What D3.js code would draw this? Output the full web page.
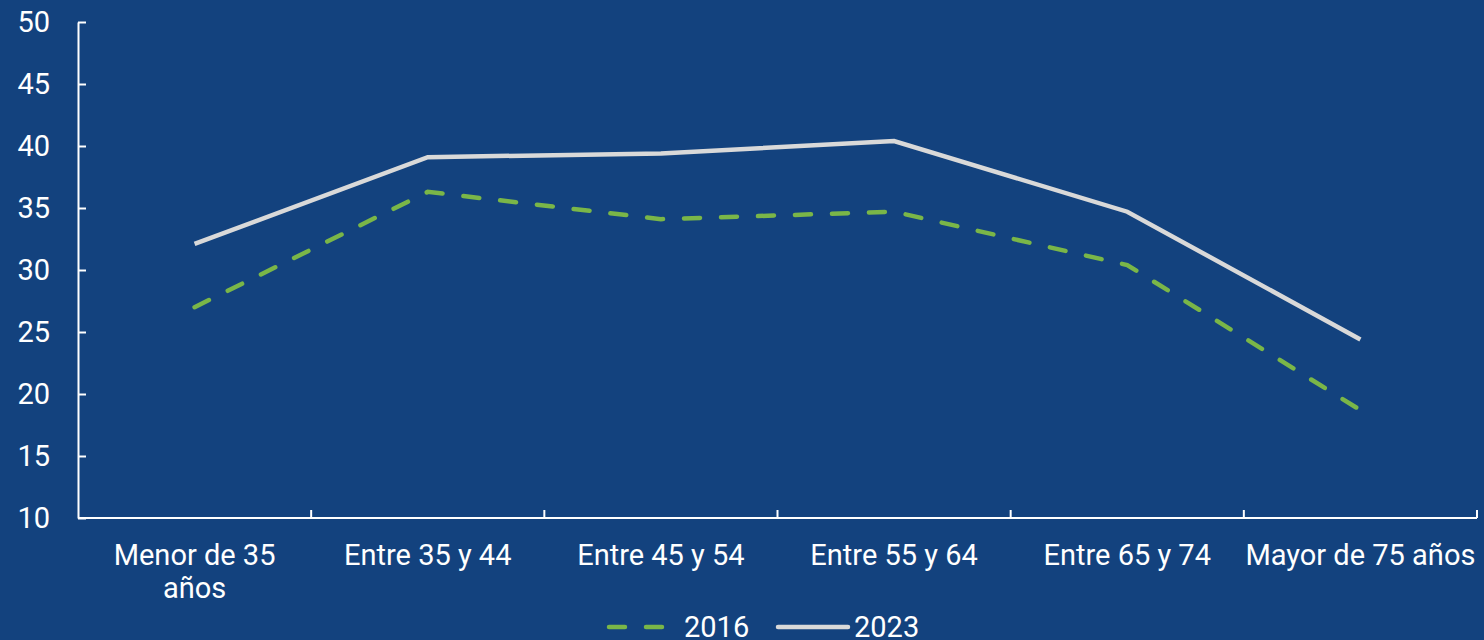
<!DOCTYPE html>
<html>
<head>
<meta charset="utf-8">
<script src="https://cdn.jsdelivr.net/npm/d3@7"></script>
<style>
  html, body { margin: 0; padding: 0; background: #13427e; }
  svg { display: block; }
  text { font-family: Roboto, "Noto Sans", sans-serif; fill: #ffffff; }
</style>
</head>
<body>
<svg id="chart"></svg>
<script>
const categories = ["Menor de 35\naños", "Entre 35 y 44", "Entre 45 y 54", "Entre 55 y 64", "Entre 65 y 74", "Mayor de 75 años"];
const values2016 = [27.0, 36.3, 34.1, 34.7, 30.4, 18.7];
const values2023 = [32.1, 39.1, 39.4, 40.4, 34.7, 24.4];
const yTicks = [10, 15, 20, 25, 30, 35, 40, 45, 50];
const seriesNames = ["2016", "2023"];

const width = 1484, height = 640;
const margin = {top: 22, right: 7, bottom: 122, left: 78};
const fontSize = 29;

let svg = d3.select("#chart").attr("width", width).attr("height", height);

let xScale = d3.scaleBand()
    .domain(categories)
    .range([margin.left, width - margin.right]);
let yScale = d3.scaleLinear()
    .domain([10, 50])
    .range([height - margin.bottom, margin.top]);

// y axis
let yAxis = svg.append("g")
    .attr("transform", `translate(${margin.left},0)`)
    .call(d3.axisRight(yScale).tickValues(yTicks).tickSize(8).tickSizeOuter(0));
yAxis.select(".domain").attr("stroke", "#ffffff").attr("stroke-width", 2);
yAxis.selectAll(".tick line").attr("stroke", "#ffffff").attr("stroke-width", 2);
yAxis.selectAll(".tick text")
    .attr("x", -28)
    .attr("text-anchor", "end")
    .attr("font-size", fontSize);

// x axis, ticks at band edges
let xAxisY = height - margin.bottom;
svg.append("line")
    .attr("x1", margin.left).attr("x2", width - margin.right)
    .attr("y1", xAxisY).attr("y2", xAxisY)
    .attr("stroke", "#ffffff").attr("stroke-width", 2);
svg.selectAll(".xtick")
    .data(categories)
    .enter()
    .append("line")
    .attr("class", "xtick")
    .attr("x1", d => xScale(d) + xScale.bandwidth())
    .attr("x2", d => xScale(d) + xScale.bandwidth())
    .attr("y1", xAxisY).attr("y2", xAxisY - 8)
    .attr("stroke", "#ffffff").attr("stroke-width", 2);

let xLabels = svg.selectAll(".xlabel")
    .data(categories)
    .enter()
    .append("text")
    .attr("class", "xlabel")
    .attr("text-anchor", "middle")
    .attr("font-size", fontSize)
    .attr("y", xAxisY + 47);
xLabels.each(function(d) {
    const lines = d.split("\n");
    const cx = xScale(d) + xScale.bandwidth() / 2;
    d3.select(this).selectAll("tspan")
        .data(lines)
        .enter()
        .append("tspan")
        .attr("x", cx)
        .attr("dy", (l, i) => i === 0 ? 0 : 33)
        .text(l => l);
});

// lines
let line = d3.line()
    .x((d, i) => xScale(categories[i]) + xScale.bandwidth() / 2)
    .y(d => yScale(d));

svg.append("path")
    .datum(values2016)
    .attr("fill", "none")
    .attr("stroke", "#7ab648")
    .attr("stroke-width", 4.5)
    .attr("stroke-linecap", "round")
    .attr("stroke-dasharray", "16,21")
    .attr("d", line);

svg.append("path")
    .datum(values2023)
    .attr("fill", "none")
    .attr("stroke", "#d9d9d9")
    .attr("stroke-width", 4.5)
    .attr("d", line);

// legend
let legendY = 627;
svg.append("line")
    .attr("x1", 609).attr("x2", 666)
    .attr("y1", legendY).attr("y2", legendY)
    .attr("stroke", "#7ab648").attr("stroke-width", 4.5)
    .attr("stroke-linecap", "round")
    .attr("stroke-dasharray", "16,21");
svg.append("text")
    .attr("x", 684).attr("y", legendY + 10)
    .attr("font-size", fontSize)
    .text(seriesNames[0]);
svg.append("line")
    .attr("x1", 778).attr("x2", 848)
    .attr("y1", legendY).attr("y2", legendY)
    .attr("stroke", "#d9d9d9").attr("stroke-width", 4.5)
    .attr("stroke-linecap", "round");
svg.append("text")
    .attr("x", 854).attr("y", legendY + 10)
    .attr("font-size", fontSize)
    .text(seriesNames[1]);
</script>
</body>
</html>
